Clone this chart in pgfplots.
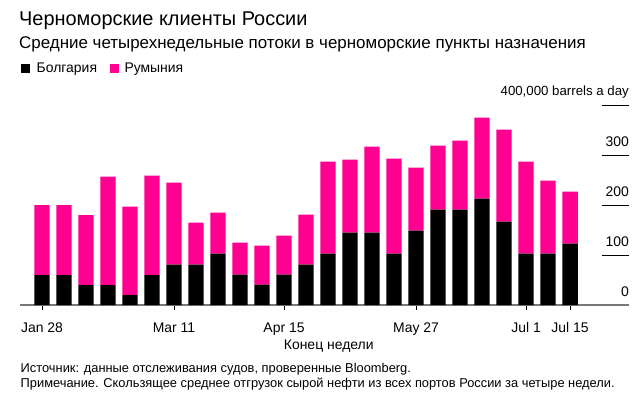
\documentclass[border=0pt]{standalone}
\usepackage{pgfplots}
\pgfplotsset{compat=1.18}
\usepackage{fontspec}
\setmainfont{Liberation Sans}
\definecolor{bpink}{RGB}{255,0,144}
\definecolor{axgray}{RGB}{120,120,120}
\begin{document}
\begin{tikzpicture}[x=1bp,y=1bp]
\path[use as bounding box] (0,0) rectangle (636,394);
% titles
\node[anchor=base west, inner sep=0] at (19,368.3) {\fontsize{20}{23}\selectfont Черноморские клиенты России};
\node[anchor=base west, inner sep=0] at (19,345.7) {\fontsize{17}{20}\selectfont Средние четырехнедельные потоки в черноморские пункты назначения};
% legend
\fill[black] (21,321.5) rectangle (30,330.5);
\node[anchor=base west, inner sep=0] at (36.5,321.3) {\fontsize{14}{16}\selectfont Болгария};
\fill[bpink] (109.5,321.5) rectangle (118.5,330.5);
\node[anchor=base west, inner sep=0] at (124.3,321.3) {\fontsize{14}{16}\selectfont Румыния};
% footnotes
\node[anchor=base west, inner sep=0] at (20.5,21.3) {\fontsize{12.9}{15}\selectfont Источник: данные отслеживания судов, проверенные Bloomberg.};
\node[anchor=base west, inner sep=0] at (20.5,6.7) {\fontsize{12.9}{15}\selectfont Примечание. Скользящее среднее отгрузок сырой нефти из всех портов России за четыре недели.};
\begin{axis}[
  at={(42bp,89bp)}, anchor=origin,
  scale only axis, width=609bp, height=200bp,
  xmin=-1, xmax=26.68, ymin=0, ymax=400,
  ybar stacked, bar width=0.7,
  axis y line=none,
  axis x line*=bottom,
  x axis line style={axgray, line width=1.5bp, -},
  xtick={0,6,11,17,22,24},
  xticklabels={Jan 28, Mar 11, Apr 15, May 27, Jul 1, Jul 15},
  xtick style={black, line width=0.8pt},
  tick align=outside, major tick length=4.5bp,
  xticklabel style={font=\fontsize{14}{16}\selectfont, anchor=base, yshift=-23bp},
  xlabel={Конец недели},
  xlabel style={font=\fontsize{14}{16}\selectfont, at={(rel axis cs:0.507,0)}, anchor=base, yshift=-44bp},
  clip=false,
]
\addplot[fill=black, draw=none] coordinates {
(0,60) (1,60) (2,40) (3,40) (4,20) (5,60) (6,81) (7,81) (8,103) (9,61)
(10,41) (11,61) (12,81) (13,103) (14,145) (15,145) (16,103) (17,149) (18,191) (19,191)
(20,213) (21,167) (22,103) (23,103) (24,123)};
\addplot[fill=bpink, draw=none] coordinates {
(0,140) (1,140) (2,140) (3,217) (4,177) (5,199) (6,164) (7,84) (8,82) (9,64)
(10,78) (11,78) (12,100) (13,184) (14,146) (15,172) (16,190) (17,126) (18,128) (19,138)
(20,162) (21,184) (22,184) (23,146) (24,104)};
% right-hand value scale
\node[anchor=base east, inner sep=0, yshift=8.5bp, font=\fontsize{14}{16}\selectfont] at (axis cs:26.68,0) {0};
\node[anchor=base east, inner sep=0, yshift=8.5bp, font=\fontsize{14}{16}\selectfont] at (axis cs:26.68,100) {100};
\node[anchor=base east, inner sep=0, yshift=8.5bp, font=\fontsize{14}{16}\selectfont] at (axis cs:26.68,200) {200};
\node[anchor=base east, inner sep=0, yshift=8.5bp, font=\fontsize{14}{16}\selectfont] at (axis cs:26.68,300) {300};
\node[anchor=base east, inner sep=0, yshift=9.3bp, font=\fontsize{13.3}{16}\selectfont] at (axis cs:26.68,400) {400,000 barrels a day};
\draw[black, line width=0.8pt] (axis cs:25.45,100) -- (axis cs:26.68,100);
\draw[black, line width=0.8pt] (axis cs:25.45,200) -- (axis cs:26.68,200);
\draw[black, line width=0.8pt] (axis cs:25.45,300) -- (axis cs:26.68,300);
\draw[black, line width=0.8pt] (axis cs:25.45,400) -- (axis cs:26.68,400);
\end{axis}
\end{tikzpicture}
\end{document}
